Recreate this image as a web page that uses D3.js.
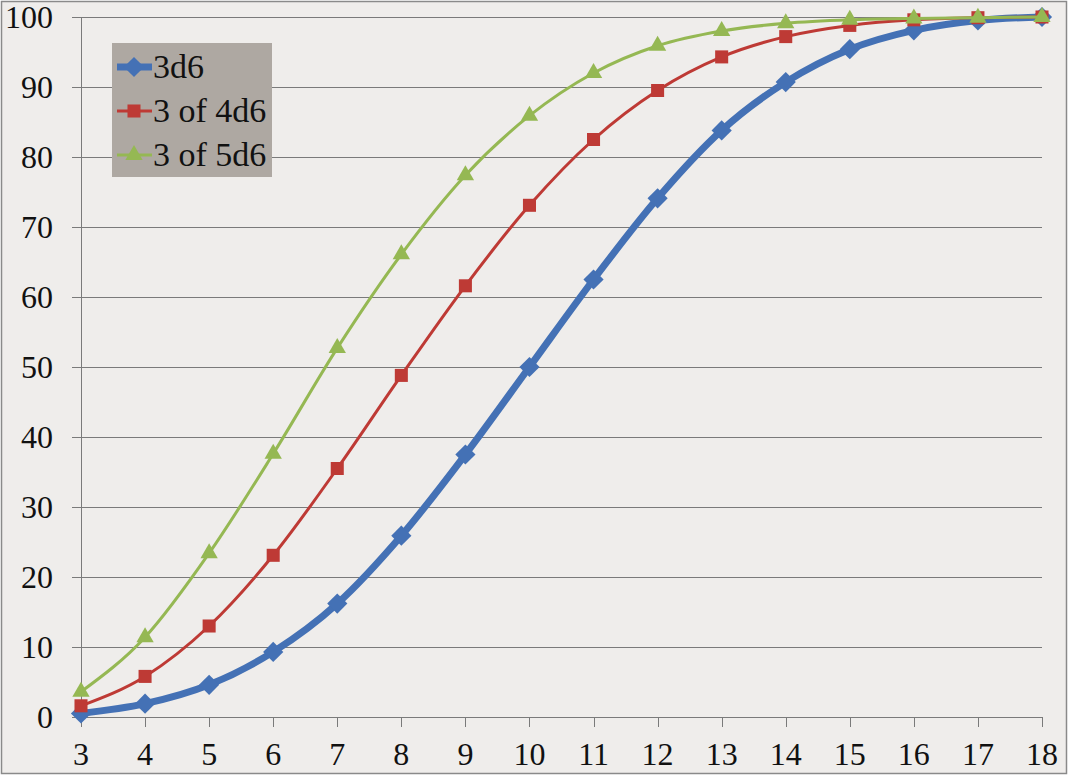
<!DOCTYPE html>
<html>
<head>
<meta charset="utf-8">
<title>dice</title>
<script src="https://cdn.jsdelivr.net/npm/d3@7"></script>
<style>
  html, body { margin: 0; padding: 0; }
  text { font-family: 'Liberation Serif', 'Times New Roman', serif !important; }
</style>
</head>
<body>
<script>
// totals on dice rolls (x axis)
var rolls = [3, 4, 5, 6, 7, 8, 9, 10, 11, 12, 13, 14, 15, 16, 17, 18];
var yTicks = [0, 10, 20, 30, 40, 50, 60, 70, 80, 90, 100];

// percentages
var d3d6 = [0.5, 1.9, 4.6, 9.3, 16.2, 25.9, 37.5, 50.0, 62.5, 74.1, 83.8, 90.7, 95.4, 98.1, 99.5, 100];
var d4d6 = [1.6, 5.8, 13.0, 23.1, 35.5, 48.8, 61.6, 73.1, 82.5, 89.5, 94.3, 97.2, 98.8, 99.6, 99.9, 100];
var d5d6 = [3.6, 11.4, 23.4, 37.6, 52.7, 66.1, 77.4, 85.9, 92.0, 95.9, 98.0, 99.1, 99.6, 99.8, 99.9, 100];

var seriesNames = ["3d6", "3 of 4d6", "3 of 5d6"];

var svg = d3.select("body").append("svg")
    .attr("width", 1070)
    .attr("height", 778)
    .attr("font-family", "Liberation Serif")
    .style("display", "block");

// background + frame
svg.append("rect")
    .attr("x", 1.5).attr("y", 1.5)
    .attr("width", 1065).attr("height", 772)
    .attr("fill", "#efedeb")
    .attr("stroke", "#8a8a8a")
    .attr("stroke-width", 1.5);

var x = d3.scaleLinear().domain([3, 18]).range([81, 1042]);
var y = d3.scaleLinear().domain([0, 100]).range([717, 17]);

// grid lines
svg.append("g")
    .selectAll("line")
    .data(yTicks)
    .enter()
    .append("line")
    .attr("x1", 72)
    .attr("x2", x(18))
    .attr("y1", function(d) { return Math.round(y(d)) + 0.5; })
    .attr("y2", function(d) { return Math.round(y(d)) + 0.5; })
    .attr("stroke", "#7a7a7a");

svg.append("line")
    .attr("x1", 81.5).attr("x2", 81.5)
    .attr("y1", y(100)).attr("y2", y(0))
    .attr("stroke", "#7a7a7a");

svg.append("g")
    .selectAll("text")
    .data(yTicks)
    .enter()
    .append("text")
    .attr("x", 53)
    .attr("y", function(d) { return y(d); })
    .attr("dy", "0.34em")
    .attr("text-anchor", "end")
    .attr("style", "font-family:'Liberation Serif';font-size:32px")
    .attr("fill", "#111")
    .text(function(d) { return d; });

var xAxis = svg.append("g");
xAxis.selectAll("line")
    .data(rolls)
    .enter()
    .append("line")
    .attr("x1", function(d) { return Math.round(x(d)) + 0.5; })
    .attr("x2", function(d) { return Math.round(x(d)) + 0.5; })
    .attr("y1", y(0))
    .attr("y2", y(0) + 10)
    .attr("stroke", "#7a7a7a");
xAxis.selectAll("text")
    .data(rolls)
    .enter()
    .append("text")
    .attr("x", function(d) { return x(d); })
    .attr("y", 765)
    .attr("text-anchor", "middle")
    .attr("style", "font-family:'Liberation Serif';font-size:32px")
    .attr("fill", "#111")
    .text(function(d) { return d; });

var line = d3.line()
    .x(function(d, i) { return x(rolls[i]); })
    .y(function(d) { return y(d); })
    .curve(d3.curveMonotoneX);

var diamond = d3.symbol().type(d3.symbolDiamond2).size(260);
var square = d3.symbol().type(d3.symbolSquare).size(170);
var triangle = d3.symbol().type(d3.symbolTriangle).size(130);

var series = [
  { name: seriesNames[0], values: d3d6, color: "#4471b5", width: 7, symbol: diamond },
  { name: seriesNames[1], values: d4d6, color: "#be3a35", width: 3, symbol: square },
  { name: seriesNames[2], values: d5d6, color: "#95b853", width: 3, symbol: triangle }
];

series.forEach(function(s) {
    svg.append("path")
        .datum(s.values)
        .attr("d", line)
        .attr("fill", "none")
        .attr("stroke", s.color)
        .attr("stroke-width", s.width)
        .attr("stroke-linejoin", "round");
    svg.append("g")
        .selectAll("path")
        .data(s.values)
        .enter()
        .append("path")
        .attr("d", s.symbol)
        .attr("transform", function(d, i) { return "translate(" + x(rolls[i]) + "," + y(d) + ")"; })
        .attr("fill", s.color);
});

// legend
var legend = svg.append("g");
legend.append("rect")
    .attr("x", 112).attr("y", 43)
    .attr("width", 160).attr("height", 134)
    .attr("fill", "#aea8a2");

var legendRows = legend.selectAll("g.row")
    .data(series)
    .enter()
    .append("g")
    .classed("row", true)
    .attr("transform", function(d, i) { return "translate(0," + (67 + i * 44) + ")"; });

legendRows.append("line")
    .attr("x1", 117).attr("x2", 152)
    .attr("y1", 0).attr("y2", 0)
    .attr("stroke", function(d) { return d.color; })
    .attr("stroke-width", function(d) { return d.width; });
legendRows.append("path")
    .attr("d", function(d) { return d.symbol(); })
    .attr("transform", "translate(134,0)")
    .attr("fill", function(d) { return d.color; });
legendRows.append("text")
    .attr("x", 153)
    .attr("y", 11)
    .attr("style", "font-family:'Liberation Serif';font-size:34px")
    .attr("fill", "#111")
    .text(function(d) { return d.name; });
</script>
</body>
</html>
